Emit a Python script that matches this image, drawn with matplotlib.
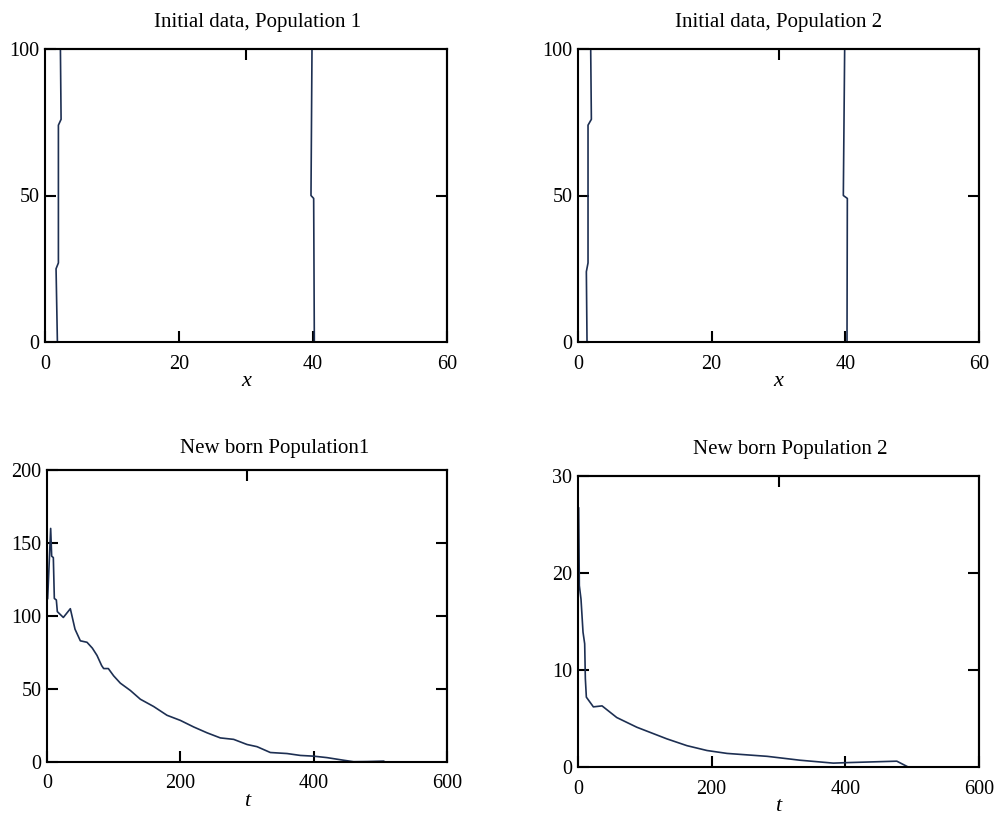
"""Initial data and new born curves for two populations (2x2 panels)."""

import matplotlib

matplotlib.use("Agg")
import matplotlib.pyplot as plt

plt.rcParams["font.family"] = ["Liberation Serif", "DejaVu Serif"]
plt.rcParams["mathtext.fontset"] = "stix"

LINE_COLOR = "#1d2f52"

# initial data, population 1: two near-vertical fronts
init1_a_x = [1.85, 1.65, 2.0, 2.0, 2.4, 2.3]
init1_a_y = [0, 25, 27, 74, 76, 100]
init1_b_x = [39.85, 39.7, 40.1, 40.2]
init1_b_y = [100, 50, 49, 0]

# initial data, population 2
init2_a_x = [1.35, 1.25, 1.5, 1.5, 2.0, 1.9]
init2_a_y = [0, 24, 27, 74, 76, 100]
init2_b_x = [39.9, 39.7, 40.3, 40.25]
init2_b_y = [100, 50, 49, 0]

# new born, population 1
born1_t = [1, 5.5, 7, 9.5, 11, 14, 15.5, 24.5, 35, 42, 50, 60, 68, 75, 82, 85,
           92, 100, 110, 125, 140, 160, 180, 200, 220, 240, 260, 280, 300, 315,
           335, 360, 380, 400, 420, 445, 460, 480, 505]
born1_v = [112, 160, 141, 140, 112, 111, 103, 99, 105, 91, 83, 82, 78, 73, 66,
           64, 64, 59, 54, 49, 43, 38, 32, 28.5, 24, 20, 16.5, 15.5, 12, 10.5,
           6.5, 5.8, 4.5, 4, 3, 1.2, 0.2, 0.3, 0.6]

# new born, population 2
born2_t = [1, 2, 4.5, 7.5, 10, 11, 12.5, 23, 36, 58, 88, 133, 163, 193, 223,
           283, 332, 382, 402, 477, 494]
born2_v = [26.7, 18.7, 17.3, 13.9, 12.7, 9.1, 7.2, 6.2, 6.3, 5.1, 4.1, 2.9,
           2.2, 1.7, 1.4, 1.1, 0.7, 0.4, 0.45, 0.6, 0.0]


def px_axes(fig, left, top, right, bottom):
    w, h = fig.get_size_inches() * fig.dpi
    return fig.add_axes([left / w, 1 - bottom / h, (right - left) / w, (bottom - top) / h])


def style_axes(ax, xlim, ylim, xticks, yticks, top_ticks, right_ticks, xlabel, title,
               title_x=0.5, title_pad=14):
    ax.set_xlim(*xlim)
    ax.set_ylim(*ylim)
    ax.set_xticks(xticks)
    ax.set_yticks(yticks)
    ax.tick_params(direction="in", length=8, width=1.5, labelsize=14.5)
    ax.tick_params(axis="x", pad=9)
    ax.tick_params(axis="y", pad=4)
    for sp in ax.spines.values():
        sp.set_linewidth(1.5)
    sec_x = ax.secondary_xaxis("top")
    sec_x.set_xticks(top_ticks)
    sec_x.tick_params(direction="in", length=8, width=1.5, labeltop=False)
    sec_x.spines["top"].set_linewidth(1.5)
    sec_y = ax.secondary_yaxis("right")
    sec_y.set_yticks(right_ticks)
    sec_y.tick_params(direction="in", length=8, width=1.5, labelright=False)
    sec_y.spines["right"].set_linewidth(1.5)
    ax.set_xlabel(xlabel, fontsize=16, style="italic", labelpad=-1)
    ax.set_title(title, fontsize=15, x=title_x, pad=title_pad)


fig = plt.figure(figsize=(10, 8.16), dpi=100)

ax1 = px_axes(fig, 45, 49, 447, 342)
ax1.plot(init1_a_x, init1_a_y, color=LINE_COLOR, lw=1.2)
ax1.plot(init1_b_x, init1_b_y, color=LINE_COLOR, lw=1.2)
style_axes(ax1, (0, 60), (0, 100), [0, 20, 40, 60], [0, 50, 100], [30], [50],
           "x", "Initial data, Population 1", title_x=0.53, title_pad=16)

ax2 = px_axes(fig, 578, 49, 979, 342)
ax2.plot(init2_a_x, init2_a_y, color=LINE_COLOR, lw=1.2)
ax2.plot(init2_b_x, init2_b_y, color=LINE_COLOR, lw=1.2)
style_axes(ax2, (0, 60), (0, 100), [0, 20, 40, 60], [0, 50, 100], [30], [50],
           "x", "Initial data, Population 2", title_pad=16)

ax3 = px_axes(fig, 47, 470, 447, 762)
ax3.plot(born1_t, born1_v, color=LINE_COLOR, lw=1.2)
style_axes(ax3, (0, 600), (0, 200), [0, 200, 400, 600], [0, 50, 100, 150, 200],
           [300], [50, 100, 150], "t", "New born Population1", title_x=0.57, title_pad=12)

ax4 = px_axes(fig, 578, 476, 979, 767)
ax4.plot(born2_t, born2_v, color=LINE_COLOR, lw=1.2)
style_axes(ax4, (0, 600), (0, 30), [0, 200, 400, 600], [0, 10, 20, 30],
           [300], [10, 20], "t", "New born Population 2", title_x=0.53, title_pad=16)

fig.savefig("out.png", dpi=100)
plt.close(fig)
